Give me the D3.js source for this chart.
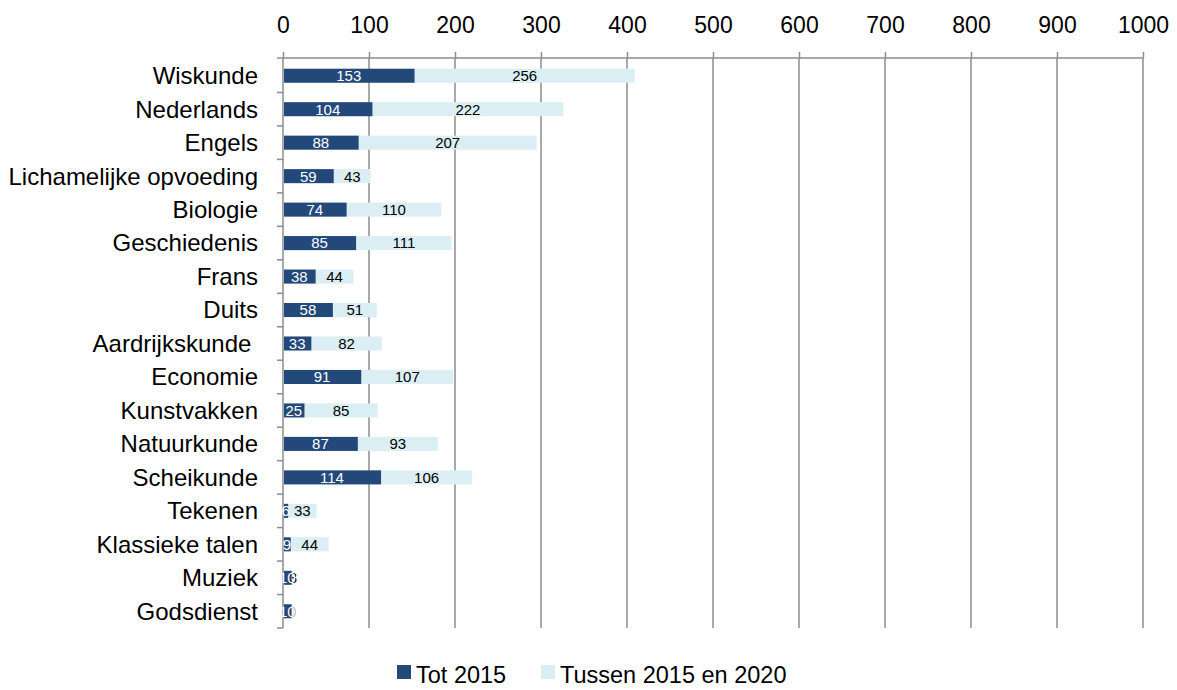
<!DOCTYPE html>
<html><head><meta charset="utf-8">
<script src="https://cdn.jsdelivr.net/npm/d3@7"></script>
<style>body{margin:0;background:#fff}svg{font-family:"Liberation Sans",Arial,sans-serif}</style>
</head><body><svg id="c" width="1177" height="690"></svg>
<script>
const categories = ["Wiskunde","Nederlands","Engels","Lichamelijke opvoeding","Biologie","Geschiedenis","Frans","Duits","Aardrijkskunde ","Economie","Kunstvakken","Natuurkunde","Scheikunde","Tekenen","Klassieke talen","Muziek","Godsdienst"];
const tot2015 = [153,104,88,59,74,85,38,58,33,91,25,87,114,6,9,10,10];
const tussen = [256,222,207,43,110,111,44,51,82,107,85,93,106,33,44,3,0];
const seriesNames = ["Tot 2015","Tussen 2015 en 2020"];
const xTicks = [0,100,200,300,400,500,600,700,800,900,1000];
const colors = ["#23497B","#DBEEF4"];

const svg = d3.select("#c");
const x = d3.scaleLinear().domain([0,1000]).range([283,1143]);
const y = d3.scaleBand().domain(categories).range([59,628]).paddingInner(0.58).paddingOuter(0.29);
const grid = "#8c8c8c";

// gridlines
svg.append("g").selectAll("line").data(xTicks.slice(1)).join("line")
  .attr("x1",d=>x(d)).attr("x2",d=>x(d)).attr("y1",58).attr("y2",628)
  .attr("stroke",grid).attr("stroke-width",1.5);

// top axis
const ax = svg.append("g").attr("transform","translate(0,58)")
  .call(d3.axisTop(x).tickValues(xTicks).tickSize(6).tickPadding(19).tickFormat(d3.format("d")));
ax.select(".domain").attr("d",`M277,0H${x(1000)}`).attr("stroke",grid).attr("stroke-width",1.5);
ax.selectAll(".tick line").attr("stroke",grid).attr("stroke-width",1.5);
ax.selectAll(".tick text").attr("font-size",23).attr("fill","#000")
  .attr("font-family","Liberation Sans, Arial, sans-serif");

// left axis line and ticks at band boundaries
const step = y.step();
const bounds = d3.range(categories.length+1).map(i=>59+i*step);
svg.append("line").attr("x1",283).attr("x2",283).attr("y1",58).attr("y2",628).attr("stroke",grid).attr("stroke-width",1.5);
svg.append("g").selectAll("line").data(bounds.slice(1)).join("line")
  .attr("x1",277).attr("x2",283).attr("y1",d=>d).attr("y2",d=>d).attr("stroke",grid).attr("stroke-width",1.5);

// category labels
svg.append("g").selectAll("text").data(categories).join("text")
  .attr("x",258).attr("y",d=>y(d)+y.bandwidth()/2).attr("dy","0.35em")
  .attr("text-anchor","end").attr("font-size",24).attr("fill","#000")
  .style("white-space","pre").text(d=>d);

// bars
const rows = categories.map((c,i)=>({c,a:tot2015[i],b:tussen[i]}));
const g = svg.append("g");
g.selectAll("rect.b").data(rows).join("rect").attr("class","b")
  .attr("x",d=>x(d.a)).attr("width",d=>x(d.a+d.b)-x(d.a))
  .attr("y",d=>y(d.c)).attr("height",y.bandwidth()).attr("fill",colors[1]);
g.selectAll("rect.a").data(rows).join("rect").attr("class","a")
  .attr("x",x(0)+1).attr("width",d=>x(d.a)-x(0)-1)
  .attr("y",d=>y(d.c)).attr("height",y.bandwidth()).attr("fill",colors[0]);

// labels
g.selectAll("text.lb").data(rows).join("text").attr("class","lb")
  .attr("x",d=>(x(d.a)+x(d.a+d.b))/2).attr("y",d=>y(d.c)+y.bandwidth()/2).attr("dy","0.36em")
  .attr("text-anchor","middle").attr("font-size",15).attr("fill","#000").text(d=>d.b);
g.selectAll("text.la").data(rows).join("text").attr("class","la")
  .attr("x",d=>(x(0)+x(d.a))/2).attr("y",d=>y(d.c)+y.bandwidth()/2).attr("dy","0.36em")
  .attr("text-anchor","middle").attr("font-size",15).attr("fill","#fff").text(d=>d.a);

// legend
const leg = svg.append("g");
const lx = [397,541];
seriesNames.forEach((n,i)=>{
  leg.append("rect").attr("x",lx[i]).attr("y",665).attr("width",14).attr("height",14).attr("fill",colors[i]);
  leg.append("text").attr("x",lx[i]+19).attr("y",675).attr("dy","0.36em").attr("font-size",23.5).attr("fill","#000").text(n);
});
</script></body></html>
